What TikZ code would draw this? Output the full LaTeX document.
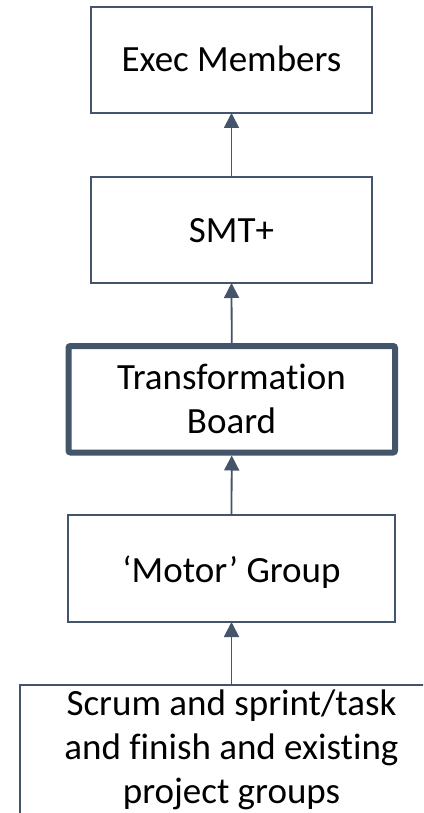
\documentclass[tikz,border=0pt]{standalone}
\usepackage{fontspec}
\setmainfont{Carlito}[Ligatures=NoCommon]
\usetikzlibrary{arrows.meta}
\definecolor{slate}{HTML}{44546A}
\begin{document}
\begin{tikzpicture}[x=1pt,y=-1pt,
  box/.style={draw=slate,line width=1.8pt,rectangle,inner sep=0pt,outer sep=0pt,fill=white},
  thick box/.style={draw=slate,line width=6pt,rectangle,rounded corners=2pt,inner sep=0pt,outer sep=0pt,fill=white},
  label/.style={font=\fontsize{37}{44}\selectfont,inner sep=0pt,outer sep=0pt,align=center,text=black},
  arr/.style={draw=slate,line width=1.8pt,-{Triangle[length=15pt,width=15pt]}}]
\useasboundingbox (0,0) rectangle (423,813);
\clip (0,0) rectangle (423,813);
\fill[white] (0,0) rectangle (423,813);
% boxes
\node[box,minimum width=281pt,minimum height=106pt] (exec) at (231.5,60) {};
\node[box,minimum width=281pt,minimum height=106pt] (smt) at (231.5,230) {};
\node[thick box,minimum width=326.5pt,minimum height=106.5pt] (trans) at (231.75,399.25) {};
\node[box,minimum width=327pt,minimum height=107pt] (motor) at (231.5,568.5) {};
\node[box,minimum width=423pt,minimum height=260pt] (scrum) at (231.5,815) {};
% texts (base anchor = last line's baseline)
\node[label,anchor=base] (exectxt) at (231.5,72) {Exec Members};
\node[label,anchor=base] (smttxt) at (231.5,242) {SMT+};
\node[label,anchor=base] (transtxt) at (231.5,433) {Transformation\\Board};
\node[label,anchor=base] (motortxt) at (231.5,582) {‘Motor’ Group};
\node[label,anchor=base] (scrumtxt) at (231.5,803) {Scrum and sprint/task\\and finish and existing\\project groups};
% arrows
\draw[arr] (smt.north) -- (exec.south);
\draw[arr,shorten <=3pt] (trans.north) -- (smt.south);
\draw[arr,shorten >=3pt] (motor.north) -- (trans.south);
\draw[arr] (scrum.north) -- (motor.south);
\end{tikzpicture}
\end{document}
